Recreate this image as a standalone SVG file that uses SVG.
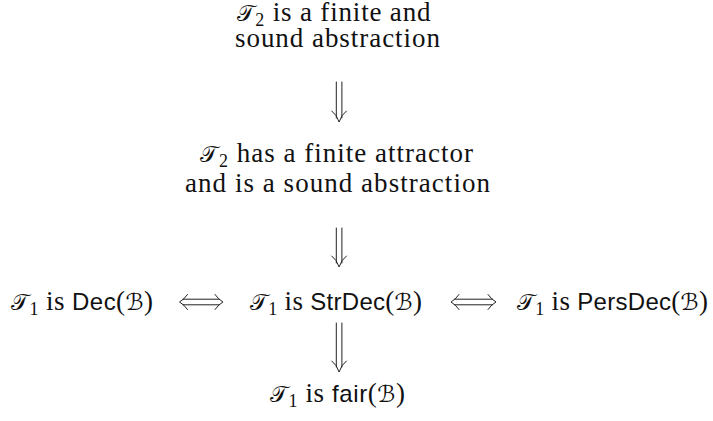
<svg xmlns="http://www.w3.org/2000/svg" width="713" height="421" viewBox="0 0 713 421">
<style>
text{font-family:"Liberation Serif","DejaVu Serif",serif;font-size:27px;fill:#111}
.cal{font-family:"DejaVu Serif","DejaVu Sans","Noto Sans",serif;font-size:23px}
.sub{font-size:18px}
.sf{font-family:"Liberation Sans","DejaVu Sans",sans-serif;font-size:24px}
.c path{fill:none;stroke:#222;stroke-width:1;stroke-linecap:round}
</style>
<rect width="713" height="421" fill="#fff"/>
<g id="n1">
<text x="236.5" y="21" textLength="194"><tspan class="cal">𝒯</tspan><tspan class="sub" dy="5">2</tspan><tspan dy="-5"> is a finite and</tspan></text>
<text x="235" y="47" textLength="205">sound abstraction</text>
</g>
<g id="n2">
<text x="200" y="162" textLength="273"><tspan class="cal">𝒯</tspan><tspan class="sub" dy="5">2</tspan><tspan dy="-5"> has a finite attractor</tspan></text>
<text x="185" y="192" textLength="305">and is a sound abstraction</text>
</g>
<g id="n3">
<text x="11" y="310" textLength="142"><tspan class="cal">𝒯</tspan><tspan class="sub" dy="5">1</tspan><tspan dy="-5"> is </tspan><tspan class="sf">Dec</tspan>(<tspan class="cal">ℬ</tspan>)</text>
</g>
<g id="n4">
<text x="250" y="310" textLength="172"><tspan class="cal">𝒯</tspan><tspan class="sub" dy="5">1</tspan><tspan dy="-5"> is </tspan><tspan class="sf">StrDec</tspan>(<tspan class="cal">ℬ</tspan>)</text>
</g>
<g id="n5">
<text x="517" y="310" textLength="191"><tspan class="cal">𝒯</tspan><tspan class="sub" dy="5">1</tspan><tspan dy="-5"> is </tspan><tspan class="sf">PersDec</tspan>(<tspan class="cal">ℬ</tspan>)</text>
</g>
<g id="n6">
<text x="270" y="402" textLength="135"><tspan class="cal">𝒯</tspan><tspan class="sub" dy="5">1</tspan><tspan dy="-5"> is </tspan><tspan class="sf">fair</tspan>(<tspan class="cal">ℬ</tspan>)</text>
</g>
<g id="connectors" class="c">
<path d="M336.3,82 V118 M341.9,82 V118 M331.8,111 Q337,115 339.1,122 Q341.2,115 346.4,111"/>
<path d="M336.3,228 V263 M341.9,228 V263 M331.8,256 Q337,260 339.1,267 Q341.2,260 346.4,256"/>
<path d="M336.3,323 V367 M341.9,323 V367 M331.8,361 Q337,365 339.1,372 Q341.2,365 346.4,361"/>
<path d="M183,299.2 H219 M183,304.8 H219 M187.5,294.5 Q184,299.5 179.5,302 Q184,304.5 187.5,309.5 M215,294.5 Q218.5,299.5 223,302 Q218.5,304.5 215,309.5"/>
<path d="M454.5,299.2 H492.5 M454.5,304.8 H492.5 M459,294.5 Q455.5,299.5 451,302 Q455.5,304.5 459,309.5 M488,294.5 Q491.5,299.5 496,302 Q491.5,304.5 488,309.5"/>
</g>
</svg>
